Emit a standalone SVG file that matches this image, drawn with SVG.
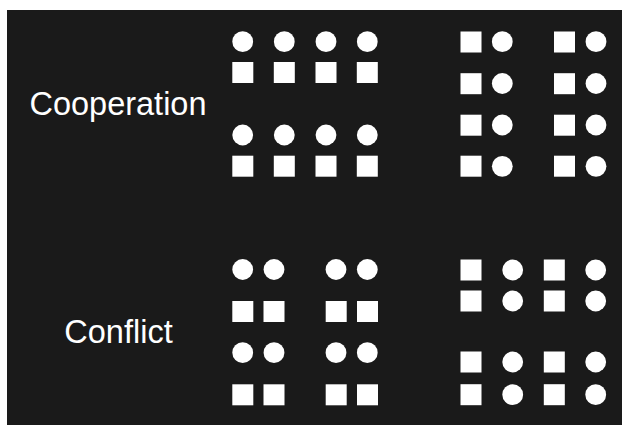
<svg xmlns="http://www.w3.org/2000/svg" width="622" height="425" viewBox="0 0 622 425">
<style>
.c{fill:#ffffff}
.s{fill:#ffffff}
.t{fill:#ffffff;font-family:"Liberation Sans",Arial,sans-serif;font-size:32.5px;text-anchor:middle}
</style>
<defs>
<circle id="ci" r="10.4" class="c"/>
<rect id="sq" width="21" height="21" class="s"/>
</defs>
<rect x="0" y="0" width="622" height="425" fill="#ffffff"/>
<rect x="7" y="10" width="615" height="415" fill="#1a1a1a"/>
<g id="label-cooperation"><text class="t" x="118" y="115">Cooperation</text></g>
<g id="label-conflict"><text class="t" x="118.5" y="342.5">Conflict</text></g>
<g id="coop-left">
<use href="#ci" x="242.7" y="41.7"/><use href="#ci" x="284.3" y="41.7"/><use href="#ci" x="326" y="41.7"/><use href="#ci" x="367.3" y="41.7"/>
<use href="#sq" x="232.3" y="62"/><use href="#sq" x="273.8" y="62"/><use href="#sq" x="315.5" y="62"/><use href="#sq" x="356.8" y="62"/>
<use href="#ci" x="242.7" y="135"/><use href="#ci" x="284.3" y="135"/><use href="#ci" x="326" y="135"/><use href="#ci" x="367.3" y="135"/>
<use href="#sq" x="232.3" y="155.7"/><use href="#sq" x="273.8" y="155.7"/><use href="#sq" x="315.5" y="155.7"/><use href="#sq" x="356.8" y="155.7"/>
</g>
<g id="coop-right">
<use href="#sq" x="460.5" y="31.5"/><use href="#ci" x="502.3" y="41.7"/><use href="#sq" x="554" y="31.5"/><use href="#ci" x="596" y="41.7"/>
<use href="#sq" x="460.5" y="73.2"/><use href="#ci" x="502.3" y="83.5"/><use href="#sq" x="554" y="73.2"/><use href="#ci" x="596" y="83.5"/>
<use href="#sq" x="460.5" y="114.7"/><use href="#ci" x="502.3" y="125"/><use href="#sq" x="554" y="114.7"/><use href="#ci" x="596" y="125"/>
<use href="#sq" x="460.5" y="155.7"/><use href="#ci" x="502.3" y="166.3"/><use href="#sq" x="554" y="155.7"/><use href="#ci" x="596" y="166.3"/>
</g>
<g id="conflict-left">
<use href="#ci" x="242.7" y="269.5"/><use href="#ci" x="274" y="269.5"/><use href="#ci" x="336" y="269.5"/><use href="#ci" x="367.3" y="269.5"/>
<use href="#sq" x="232.3" y="301"/><use href="#sq" x="263.5" y="301"/><use href="#sq" x="325.7" y="301"/><use href="#sq" x="357" y="301"/>
<use href="#ci" x="242.7" y="352.7"/><use href="#ci" x="274" y="352.7"/><use href="#ci" x="336" y="352.7"/><use href="#ci" x="367.3" y="352.7"/>
<use href="#sq" x="232.3" y="384.3"/><use href="#sq" x="263.5" y="384.3"/><use href="#sq" x="325.7" y="384.3"/><use href="#sq" x="357" y="384.3"/>
</g>
<g id="conflict-right">
<use href="#sq" x="460.5" y="259.5"/><use href="#ci" x="512.7" y="270"/><use href="#sq" x="543.8" y="259.5"/><use href="#ci" x="595.7" y="270"/>
<use href="#sq" x="460.5" y="290.5"/><use href="#ci" x="512.7" y="301"/><use href="#sq" x="543.8" y="290.5"/><use href="#ci" x="595.7" y="301"/>
<use href="#sq" x="460.5" y="351.5"/><use href="#ci" x="512.7" y="362"/><use href="#sq" x="543.8" y="351.5"/><use href="#ci" x="595.7" y="362"/>
<use href="#sq" x="460.5" y="384.2"/><use href="#ci" x="512.7" y="394.7"/><use href="#sq" x="543.8" y="384.2"/><use href="#ci" x="595.7" y="394.7"/>
</g>
<g id="connectors"/>
</svg>
